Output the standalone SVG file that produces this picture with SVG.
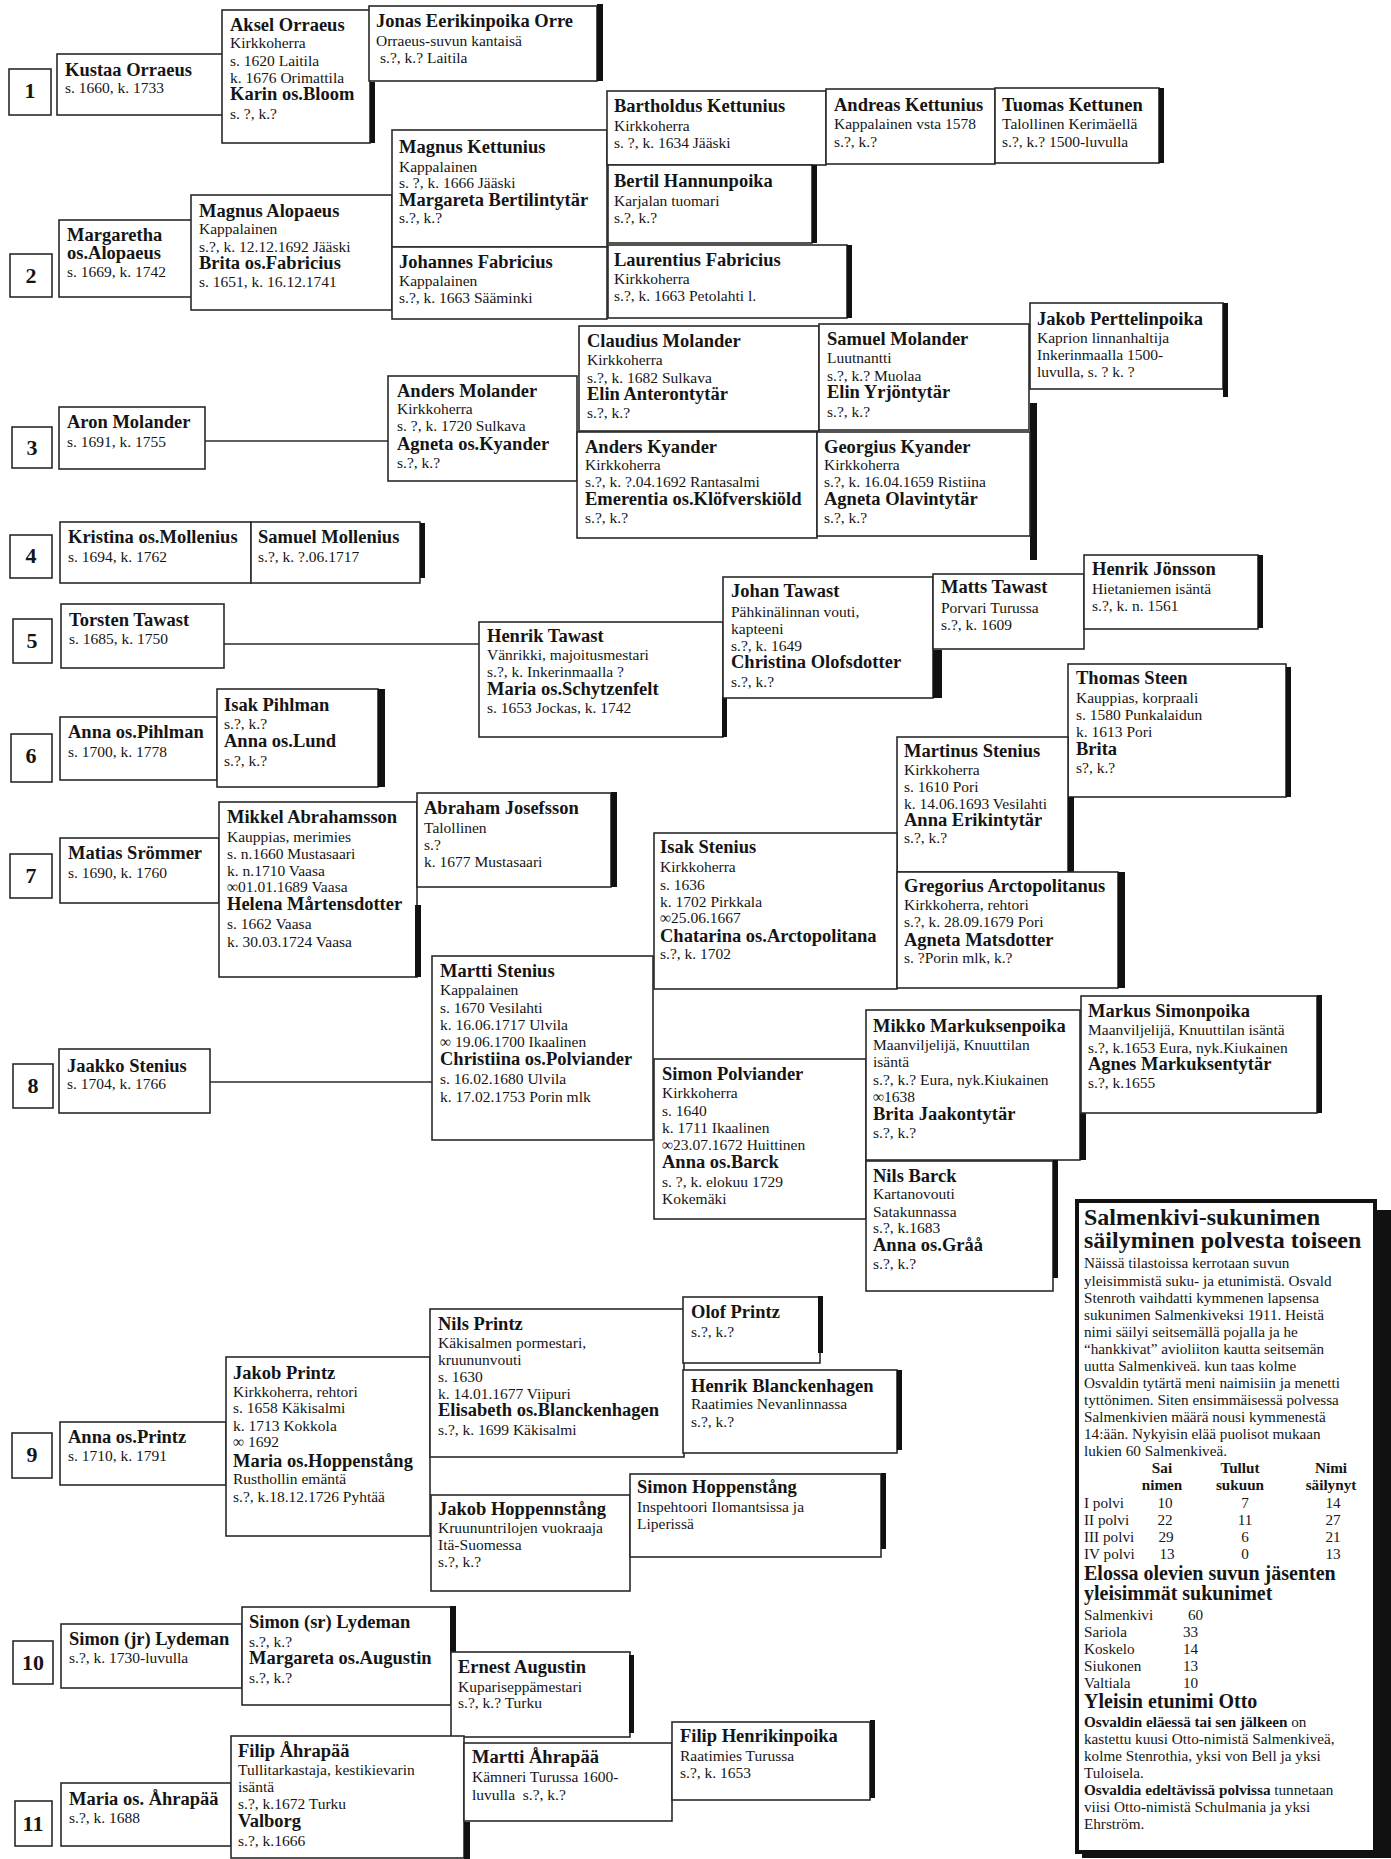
<svg xmlns="http://www.w3.org/2000/svg" width="1391" height="1859" viewBox="0 0 1391 1859">
<style>
.b{fill:#fff;stroke:#2a2a2a;stroke-width:1.6}
.bar{fill:#111}
.ln{stroke:#2a2a2a;stroke-width:1.6;fill:none}
text{font-family:"Liberation Serif","Times New Roman",serif;fill:#151515}
.n{font-weight:bold;font-size:18.5px}
.d{font-size:15.5px}
.num{font-weight:bold;font-size:22px;text-anchor:middle}
.h1{font-weight:bold;font-size:24px}
.h2{font-weight:bold;font-size:20px}
.s{font-size:15.2px}
.sb{font-size:15.2px;font-weight:bold}
.c{text-anchor:middle}
.e{text-anchor:end}
</style>
<rect width="1391" height="1859" fill="#fff"/>

<g id="connectors">
<line class="ln" x1="205" y1="441" x2="388" y2="441" stroke-width="2.6"/>
<line class="ln" x1="224" y1="644" x2="479" y2="644"/>
<line class="ln" x1="210" y1="1082" x2="432" y2="1082"/>
<rect class="bar" x="1030" y="403" width="7" height="157"/>
</g>

<g id="gen-numbers">
<g id="num1"><rect class="b" x="9" y="69" width="42" height="46"/><text class="num" x="30" y="98">1</text></g>
<g id="num2"><rect class="b" x="10" y="254" width="42" height="43"/><text class="num" x="31" y="283">2</text></g>
<g id="num3"><rect class="b" x="12" y="427" width="40" height="41"/><text class="num" x="32" y="455">3</text></g>
<g id="num4"><rect class="b" x="10" y="535" width="42" height="43"/><text class="num" x="31" y="563">4</text></g>
<g id="num5"><rect class="b" x="13" y="619" width="39" height="44"/><text class="num" x="32" y="648">5</text></g>
<g id="num6"><rect class="b" x="11" y="734" width="41" height="48"/><text class="num" x="31" y="763">6</text></g>
<g id="num7"><rect class="b" x="10" y="854" width="42" height="44"/><text class="num" x="31" y="883">7</text></g>
<g id="num8"><rect class="b" x="13" y="1064" width="40" height="44"/><text class="num" x="33" y="1093">8</text></g>
<g id="num9"><rect class="b" x="12" y="1433" width="40" height="45"/><text class="num" x="32" y="1462">9</text></g>
<g id="num10"><rect class="b" x="13" y="1641" width="40" height="43"/><text class="num" x="33" y="1670">10</text></g>
<g id="num11"><rect class="b" x="15" y="1801" width="37" height="45"/><text class="num" x="33" y="1831">11</text></g>
</g>

<g id="kustaa"><rect class="b" x="57" y="54" width="166" height="61"/><text x="65"><tspan class="n" x="65" y="76">Kustaa Orraeus</tspan><tspan class="d" x="65" y="93">s. 1660, k. 1733</tspan></text></g>
<g id="aksel"><rect class="b" x="222" y="10" width="148" height="133"/><rect class="bar" x="370" y="82" width="5" height="61"/><text><tspan class="n" x="230" y="31">Aksel Orraeus</tspan><tspan class="d" x="230" y="48">Kirkkoherra</tspan><tspan class="d" x="230" y="66">s. 1620 Laitila</tspan><tspan class="d" x="230" y="83">k. 1676 Orimattila</tspan><tspan class="n" x="230" y="100">Karin os.Bloom</tspan><tspan class="d" x="230" y="119">s. ?, k.?</tspan></text></g>
<g id="jonas"><rect class="b" x="369" y="6" width="228" height="75"/><rect class="bar" x="597" y="4" width="6" height="77"/><text><tspan class="n" x="376" y="27">Jonas Eerikinpoika Orre</tspan><tspan class="d" x="376" y="46">Orraeus-suvun kantaisä</tspan><tspan class="d" x="380" y="63">s.?, k.? Laitila</tspan></text></g>

<g id="margaretha"><rect class="b" x="59" y="220" width="133" height="77"/><text><tspan class="n" x="67" y="241">Margaretha</tspan><tspan class="n" x="67" y="259">os.Alopaeus</tspan><tspan class="d" x="67" y="277">s. 1669, k. 1742</tspan></text></g>
<g id="magnus-alopaeus"><rect class="b" x="191" y="195" width="201" height="115"/><text><tspan class="n" x="199" y="217">Magnus Alopaeus</tspan><tspan class="d" x="199" y="234">Kappalainen</tspan><tspan class="d" x="199" y="252">s.?, k. 12.12.1692 Jääski</tspan><tspan class="n" x="199" y="269">Brita os.Fabricius</tspan><tspan class="d" x="199" y="287">s. 1651, k. 16.12.1741</tspan></text></g>
<g id="magnus-kettunius"><rect class="b" x="392" y="130" width="215" height="117"/><text><tspan class="n" x="399" y="153">Magnus Kettunius</tspan><tspan class="d" x="399" y="172">Kappalainen</tspan><tspan class="d" x="399" y="188">s. ?, k. 1666 Jääski</tspan><tspan class="n" x="399" y="206">Margareta Bertilintytär</tspan><tspan class="d" x="399" y="223">s.?, k.?</tspan></text></g>
<g id="johannes-fabricius"><rect class="b" x="392" y="247" width="215" height="72"/><text><tspan class="n" x="399" y="268">Johannes Fabricius</tspan><tspan class="d" x="399" y="286">Kappalainen</tspan><tspan class="d" x="399" y="303">s.?, k. 1663 Sääminki</tspan></text></g>
<g id="bartholdus"><rect class="b" x="607" y="91" width="219" height="74"/><text><tspan class="n" x="614" y="112">Bartholdus Kettunius</tspan><tspan class="d" x="614" y="131">Kirkkoherra</tspan><tspan class="d" x="614" y="148">s. ?, k. 1634 Jääski</tspan></text></g>
<g id="andreas"><rect class="b" x="826" y="89" width="169" height="75"/><text><tspan class="n" x="834" y="111">Andreas Kettunius</tspan><tspan class="d" x="834" y="129">Kappalainen vsta 1578</tspan><tspan class="d" x="834" y="147">s.?, k.?</tspan></text></g>
<g id="tuomas"><rect class="b" x="995" y="88" width="164" height="75"/><rect class="bar" x="1159" y="88" width="5" height="75"/><text><tspan class="n" x="1002" y="111">Tuomas Kettunen</tspan><tspan class="d" x="1002" y="129">Talollinen Kerimäellä</tspan><tspan class="d" x="1002" y="147">s.?, k.? 1500-luvulla</tspan></text></g>
<g id="bertil"><rect class="b" x="608" y="165" width="204" height="78"/><rect class="bar" x="812" y="165" width="5" height="78"/><text><tspan class="n" x="614" y="187">Bertil Hannunpoika</tspan><tspan class="d" x="614" y="206">Karjalan tuomari</tspan><tspan class="d" x="614" y="223">s.?, k.?</tspan></text></g>
<g id="laurentius"><rect class="b" x="608" y="245" width="239" height="73"/><rect class="bar" x="847" y="245" width="5" height="73"/><text><tspan class="n" x="614" y="266">Laurentius Fabricius</tspan><tspan class="d" x="614" y="284">Kirkkoherra</tspan><tspan class="d" x="614" y="301">s.?, k. 1663 Petolahti l.</tspan></text></g>

<g id="aron"><rect class="b" x="59" y="407" width="146" height="62"/><text><tspan class="n" x="67" y="428">Aron Molander</tspan><tspan class="d" x="67" y="447">s. 1691, k. 1755</tspan></text></g>
<g id="anders-molander"><rect class="b" x="388" y="376" width="189" height="105"/><text><tspan class="n" x="397" y="397">Anders Molander</tspan><tspan class="d" x="397" y="414">Kirkkoherra</tspan><tspan class="d" x="397" y="431">s. ?, k. 1720 Sulkava</tspan><tspan class="n" x="397" y="450">Agneta os.Kyander</tspan><tspan class="d" x="397" y="468">s.?, k.?</tspan></text></g>
<g id="claudius"><rect class="b" x="579" y="326" width="240" height="105"/><text><tspan class="n" x="587" y="347">Claudius Molander</tspan><tspan class="d" x="587" y="365">Kirkkoherra</tspan><tspan class="d" x="587" y="383">s.?, k. 1682 Sulkava</tspan><tspan class="n" x="587" y="400">Elin Anterontytär</tspan><tspan class="d" x="587" y="418">s.?, k.?</tspan></text></g>
<g id="samuel-molander"><rect class="b" x="819" y="324" width="210" height="106"/><text><tspan class="n" x="827" y="345">Samuel Molander</tspan><tspan class="d" x="827" y="363">Luutnantti</tspan><tspan class="d" x="827" y="381">s.?, k.? Muolaa</tspan><tspan class="n" x="827" y="398">Elin Yrjöntytär</tspan><tspan class="d" x="827" y="417">s.?, k.?</tspan></text></g>
<g id="jakob-perttelinpoika"><rect class="b" x="1030" y="303" width="193" height="86"/><rect class="bar" x="1223" y="303" width="5" height="94"/><text><tspan class="n" x="1037" y="325">Jakob Perttelinpoika</tspan><tspan class="d" x="1037" y="343">Kaprion linnanhaltija</tspan><tspan class="d" x="1037" y="360">Inkerinmaalla 1500-</tspan><tspan class="d" x="1037" y="377">luvulla, s. ? k. ?</tspan></text></g>
<g id="anders-kyander"><rect class="b" x="577" y="432" width="240" height="106"/><text><tspan class="n" x="585" y="453">Anders Kyander</tspan><tspan class="d" x="585" y="470">Kirkkoherra</tspan><tspan class="d" x="585" y="487">s.?, k. ?.04.1692 Rantasalmi</tspan><tspan class="n" x="585" y="505">Emerentia os.Klöfverskiöld</tspan><tspan class="d" x="585" y="523">s.?, k.?</tspan></text></g>
<g id="georgius"><rect class="b" x="817" y="432" width="213" height="104"/><text><tspan class="n" x="824" y="453">Georgius Kyander</tspan><tspan class="d" x="824" y="470">Kirkkoherra</tspan><tspan class="d" x="824" y="487">s.?, k. 16.04.1659 Ristiina</tspan><tspan class="n" x="824" y="505">Agneta Olavintytär</tspan><tspan class="d" x="824" y="523">s.?, k.?</tspan></text></g>

<g id="kristina"><rect class="b" x="60" y="522" width="191" height="61"/><text><tspan class="n" x="68" y="543">Kristina os.Mollenius</tspan><tspan class="d" x="68" y="562">s. 1694, k. 1762</tspan></text></g>
<g id="samuel-mollenius"><rect class="b" x="251" y="522" width="169" height="61"/><rect class="bar" x="420" y="523" width="5" height="55"/><text><tspan class="n" x="258" y="543">Samuel Mollenius</tspan><tspan class="d" x="258" y="562">s.?, k. ?.06.1717</tspan></text></g>

<g id="torsten"><rect class="b" x="61" y="604" width="163" height="64"/><text><tspan class="n" x="69" y="626">Torsten Tawast</tspan><tspan class="d" x="69" y="644">s. 1685, k. 1750</tspan></text></g>
<g id="henrik-tawast"><rect class="b" x="479" y="622" width="244" height="115"/><rect class="bar" x="722" y="697" width="5" height="40"/><text><tspan class="n" x="487" y="642">Henrik Tawast</tspan><tspan class="d" x="487" y="660">Vänrikki, majoitusmestari</tspan><tspan class="d" x="487" y="677">s.?, k. Inkerinmaalla ?</tspan><tspan class="n" x="487" y="695">Maria os.Schytzenfelt</tspan><tspan class="d" x="487" y="713">s. 1653 Jockas, k. 1742</tspan></text></g>
<g id="johan-tawast"><rect class="b" x="723" y="577" width="210" height="121"/><rect class="bar" x="933" y="650" width="9" height="48"/><text><tspan class="n" x="731" y="597">Johan Tawast</tspan><tspan class="d" x="731" y="617">Pähkinälinnan vouti,</tspan><tspan class="d" x="731" y="634">kapteeni</tspan><tspan class="d" x="731" y="651">s.?, k. 1649</tspan><tspan class="n" x="731" y="668">Christina Olofsdotter</tspan><tspan class="d" x="731" y="687">s.?, k.?</tspan></text></g>
<g id="matts-tawast"><rect class="b" x="933" y="574" width="151" height="75"/><text><tspan class="n" x="941" y="593">Matts Tawast</tspan><tspan class="d" x="941" y="613">Porvari Turussa</tspan><tspan class="d" x="941" y="630">s.?, k. 1609</tspan></text></g>
<g id="henrik-jonsson"><rect class="b" x="1084" y="555" width="174" height="74"/><rect class="bar" x="1258" y="555" width="5" height="73"/><text><tspan class="n" x="1092" y="575">Henrik Jönsson</tspan><tspan class="d" x="1092" y="594">Hietaniemen isäntä</tspan><tspan class="d" x="1092" y="611">s.?, k. n. 1561</tspan></text></g>

<g id="anna-pihlman"><rect class="b" x="60" y="717" width="157" height="63"/><text><tspan class="n" x="68" y="738">Anna os.Pihlman</tspan><tspan class="d" x="68" y="757">s. 1700, k. 1778</tspan></text></g>
<g id="isak-pihlman"><rect class="b" x="217" y="689" width="161" height="98"/><rect class="bar" x="378" y="689" width="7" height="98"/><text><tspan class="n" x="224" y="711">Isak Pihlman</tspan><tspan class="d" x="224" y="729">s.?, k.?</tspan><tspan class="n" x="224" y="747">Anna os.Lund</tspan><tspan class="d" x="224" y="766">s.?, k.?</tspan></text></g>

<g id="thomas-steen"><rect class="b" x="1068" y="664" width="218" height="133"/><rect class="bar" x="1286" y="667" width="5" height="130"/><text><tspan class="n" x="1076" y="684">Thomas Steen</tspan><tspan class="d" x="1076" y="703">Kauppias, korpraali</tspan><tspan class="d" x="1076" y="720">s. 1580 Punkalaidun</tspan><tspan class="d" x="1076" y="737">k. 1613 Pori</tspan><tspan class="n" x="1076" y="755">Brita</tspan><tspan class="d" x="1076" y="773">s?, k.?</tspan></text></g>
<g id="martinus"><rect class="b" x="897" y="737" width="171" height="135"/><rect class="bar" x="1068" y="797" width="6" height="75"/><text><tspan class="n" x="904" y="757">Martinus Stenius</tspan><tspan class="d" x="904" y="775">Kirkkoherra</tspan><tspan class="d" x="904" y="792">s. 1610 Pori</tspan><tspan class="d" x="904" y="809">k. 14.06.1693 Vesilahti</tspan><tspan class="n" x="904" y="826">Anna Erikintytär</tspan><tspan class="d" x="904" y="843">s.?, k.?</tspan></text></g>

<g id="matias"><rect class="b" x="60" y="838" width="159" height="65"/><text><tspan class="n" x="68" y="859">Matias Srömmer</tspan><tspan class="d" x="68" y="878">s. 1690, k. 1760</tspan></text></g>
<g id="mikkel"><rect class="b" x="219" y="802" width="198" height="175"/><rect class="bar" x="415" y="905" width="6" height="72"/><text><tspan class="n" x="227" y="823">Mikkel Abrahamsson</tspan><tspan class="d" x="227" y="842">Kauppias, merimies</tspan><tspan class="d" x="227" y="859">s. n.1660 Mustasaari</tspan><tspan class="d" x="227" y="876">k. n.1710 Vaasa</tspan><tspan class="d" x="227" y="892">∞01.01.1689 Vaasa</tspan><tspan class="n" x="227" y="910">Helena Mårtensdotter</tspan><tspan class="d" x="227" y="929">s. 1662 Vaasa</tspan><tspan class="d" x="227" y="947">k. 30.03.1724 Vaasa</tspan></text></g>
<g id="abraham"><rect class="b" x="417" y="793" width="194" height="94"/><rect class="bar" x="611" y="792" width="6" height="95"/><text><tspan class="n" x="424" y="814">Abraham Josefsson</tspan><tspan class="d" x="424" y="833">Talollinen</tspan><tspan class="d" x="424" y="850">s.?</tspan><tspan class="d" x="424" y="867">k. 1677 Mustasaari</tspan></text></g>

<g id="isak-stenius"><rect class="b" x="654" y="833" width="243" height="156"/><text><tspan class="n" x="660" y="853">Isak Stenius</tspan><tspan class="d" x="660" y="872">Kirkkoherra</tspan><tspan class="d" x="660" y="890">s. 1636</tspan><tspan class="d" x="660" y="907">k. 1702 Pirkkala</tspan><tspan class="d" x="660" y="923">∞25.06.1667</tspan><tspan class="n" x="660" y="942">Chatarina os.Arctopolitana</tspan><tspan class="d" x="660" y="959">s.?, k. 1702</tspan></text></g>
<g id="gregorius"><rect class="b" x="897" y="872" width="221" height="116"/><rect class="bar" x="1118" y="872" width="7" height="116"/><text><tspan class="n" x="904" y="892">Gregorius Arctopolitanus</tspan><tspan class="d" x="904" y="910">Kirkkoherra, rehtori</tspan><tspan class="d" x="904" y="927">s.?, k. 28.09.1679 Pori</tspan><tspan class="n" x="904" y="946">Agneta Matsdotter</tspan><tspan class="d" x="904" y="963">s. ?Porin mlk, k.?</tspan></text></g>
<g id="martti-stenius"><rect class="b" x="432" y="956" width="221" height="184"/><text><tspan class="n" x="440" y="977">Martti Stenius</tspan><tspan class="d" x="440" y="995">Kappalainen</tspan><tspan class="d" x="440" y="1013">s. 1670 Vesilahti</tspan><tspan class="d" x="440" y="1030">k. 16.06.1717 Ulvila</tspan><tspan class="d" x="440" y="1047">∞ 19.06.1700 Ikaalinen</tspan><tspan class="n" x="440" y="1065">Christiina os.Polviander</tspan><tspan class="d" x="440" y="1084">s. 16.02.1680 Ulvila</tspan><tspan class="d" x="440" y="1102">k. 17.02.1753 Porin mlk</tspan></text></g>

<g id="jaakko"><rect class="b" x="59" y="1049" width="151" height="64"/><text><tspan class="n" x="67" y="1072">Jaakko Stenius</tspan><tspan class="d" x="67" y="1089">s. 1704, k. 1766</tspan></text></g>
<g id="simon-polviander"><rect class="b" x="654" y="1059" width="212" height="160"/><text><tspan class="n" x="662" y="1080">Simon Polviander</tspan><tspan class="d" x="662" y="1098">Kirkkoherra</tspan><tspan class="d" x="662" y="1116">s. 1640</tspan><tspan class="d" x="662" y="1133">k. 1711 Ikaalinen</tspan><tspan class="d" x="662" y="1150">∞23.07.1672 Huittinen</tspan><tspan class="n" x="662" y="1168">Anna os.Barck</tspan><tspan class="d" x="662" y="1187">s. ?, k. elokuu 1729</tspan><tspan class="d" x="662" y="1204">Kokemäki</tspan></text></g>
<g id="mikko"><rect class="b" x="866" y="1010" width="214" height="150"/><rect class="bar" x="1080" y="1113" width="6" height="47"/><text><tspan class="n" x="873" y="1032">Mikko Markuksenpoika</tspan><tspan class="d" x="873" y="1050">Maanviljelijä, Knuuttilan</tspan><tspan class="d" x="873" y="1067">isäntä</tspan><tspan class="d" x="873" y="1085">s.?, k.? Eura, nyk.Kiukainen</tspan><tspan class="d" x="873" y="1102">∞1638</tspan><tspan class="n" x="873" y="1120">Brita Jaakontytär</tspan><tspan class="d" x="873" y="1138">s.?, k.?</tspan></text></g>
<g id="markus"><rect class="b" x="1081" y="996" width="236" height="117"/><rect class="bar" x="1317" y="995" width="5" height="118"/><text><tspan class="n" x="1088" y="1017">Markus Simonpoika</tspan><tspan class="d" x="1088" y="1035">Maanviljelijä, Knuuttilan isäntä</tspan><tspan class="d" x="1088" y="1053">s.?, k.1653 Eura, nyk.Kiukainen</tspan><tspan class="n" x="1088" y="1070">Agnes Markuksentytär</tspan><tspan class="d" x="1088" y="1088">s.?, k.1655</tspan></text></g>
<g id="nils-barck"><rect class="b" x="866" y="1161" width="187" height="130"/><rect class="bar" x="1053" y="1160" width="5" height="118"/><text><tspan class="n" x="873" y="1182">Nils Barck</tspan><tspan class="d" x="873" y="1199">Kartanovouti</tspan><tspan class="d" x="873" y="1217">Satakunnassa</tspan><tspan class="d" x="873" y="1233">s.?, k.1683</tspan><tspan class="n" x="873" y="1251">Anna os.Gråå</tspan><tspan class="d" x="873" y="1269">s.?, k.?</tspan></text></g>

<g id="anna-printz"><rect class="b" x="60" y="1422" width="166" height="63"/><text><tspan class="n" x="68" y="1443">Anna os.Printz</tspan><tspan class="d" x="68" y="1461">s. 1710, k. 1791</tspan></text></g>
<g id="jakob-printz"><rect class="b" x="226" y="1357" width="204" height="179"/><text><tspan class="n" x="233" y="1379">Jakob Printz</tspan><tspan class="d" x="233" y="1397">Kirkkoherra, rehtori</tspan><tspan class="d" x="233" y="1413">s. 1658 Käkisalmi</tspan><tspan class="d" x="233" y="1431">k. 1713 Kokkola</tspan><tspan class="d" x="233" y="1447">∞ 1692</tspan><tspan class="n" x="233" y="1467">Maria os.Hoppenstång</tspan><tspan class="d" x="233" y="1484">Rusthollin emäntä</tspan><tspan class="d" x="233" y="1502">s.?, k.18.12.1726 Pyhtää</tspan></text></g>
<g id="nils-printz"><rect class="b" x="430" y="1309" width="254" height="148"/><text><tspan class="n" x="438" y="1330">Nils Printz</tspan><tspan class="d" x="438" y="1348">Käkisalmen pormestari,</tspan><tspan class="d" x="438" y="1365">kruununvouti</tspan><tspan class="d" x="438" y="1382">s. 1630</tspan><tspan class="d" x="438" y="1399">k. 14.01.1677 Viipuri</tspan><tspan class="n" x="438" y="1416">Elisabeth os.Blanckenhagen</tspan><tspan class="d" x="438" y="1435">s.?, k. 1699 Käkisalmi</tspan></text></g>
<g id="olof-printz"><rect class="b" x="683" y="1297" width="137" height="66"/><rect class="bar" x="818" y="1296" width="5" height="57"/><text><tspan class="n" x="691" y="1318">Olof Printz</tspan><tspan class="d" x="691" y="1337">s.?, k.?</tspan></text></g>
<g id="henrik-blanckenhagen"><rect class="b" x="683" y="1370" width="214" height="83"/><rect class="bar" x="897" y="1370" width="5" height="80"/><text><tspan class="n" x="691" y="1392">Henrik Blanckenhagen</tspan><tspan class="d" x="691" y="1409">Raatimies Nevanlinnassa</tspan><tspan class="d" x="691" y="1427">s.?, k.?</tspan></text></g>
<g id="jakob-hoppennstang"><rect class="b" x="431" y="1495" width="199" height="96"/><text><tspan class="n" x="438" y="1515">Jakob Hoppennstång</tspan><tspan class="d" x="438" y="1533">Kruununtrilojen vuokraaja</tspan><tspan class="d" x="438" y="1550">Itä-Suomessa</tspan><tspan class="d" x="438" y="1567">s.?, k.?</tspan></text></g>
<g id="simon-hoppenstang"><rect class="b" x="630" y="1474" width="251" height="83"/><rect class="bar" x="881" y="1473" width="5" height="76"/><text><tspan class="n" x="637" y="1493">Simon Hoppenstång</tspan><tspan class="d" x="637" y="1512">Inspehtoori Ilomantsissa ja</tspan><tspan class="d" x="637" y="1529">Liperissä</tspan></text></g>

<g id="simon-jr"><rect class="b" x="61" y="1624" width="181" height="64"/><text><tspan class="n" x="69" y="1645">Simon (jr) Lydeman</tspan><tspan class="d" x="69" y="1663">s.?, k. 1730-luvulla</tspan></text></g>
<g id="simon-sr"><rect class="b" x="242" y="1607" width="209" height="98"/><rect class="bar" x="450" y="1606" width="6" height="49"/><text><tspan class="n" x="249" y="1628">Simon (sr) Lydeman</tspan><tspan class="d" x="249" y="1647">s.?, k.?</tspan><tspan class="n" x="249" y="1664">Margareta os.Augustin</tspan><tspan class="d" x="249" y="1683">s.?, k.?</tspan></text></g>
<g id="ernest"><rect class="b" x="451" y="1652" width="179" height="85"/><rect class="bar" x="629" y="1655" width="5" height="78"/><text><tspan class="n" x="458" y="1673">Ernest Augustin</tspan><tspan class="d" x="458" y="1692">Kupariseppämestari</tspan><tspan class="d" x="458" y="1708">s.?, k.? Turku</tspan></text></g>

<g id="maria-ahrapaa"><rect class="b" x="61" y="1783" width="170" height="63"/><text><tspan class="n" x="69" y="1805">Maria os. Åhrapää</tspan><tspan class="d" x="69" y="1823">s.?, k. 1688</tspan></text></g>
<g id="filip-ahrapaa"><rect class="b" x="231" y="1736" width="233" height="122"/><rect class="bar" x="464" y="1822" width="6" height="37"/><text><tspan class="n" x="238" y="1757">Filip Åhrapää</tspan><tspan class="d" x="238" y="1775">Tullitarkastaja, kestikievarin</tspan><tspan class="d" x="238" y="1792">isäntä</tspan><tspan class="d" x="238" y="1809">s.?, k.1672 Turku</tspan><tspan class="n" x="238" y="1827">Valborg</tspan><tspan class="d" x="238" y="1846">s.?, k.1666</tspan></text></g>
<g id="martti-ahrapaa"><rect class="b" x="464" y="1743" width="208" height="78"/><text><tspan class="n" x="472" y="1763">Martti Åhrapää</tspan><tspan class="d" x="472" y="1782">Kämneri Turussa 1600-</tspan><tspan class="d" x="472" y="1800" xml:space="preserve">luvulla  s.?, k.?</tspan></text></g>
<g id="filip-henrikinpoika"><rect class="b" x="672" y="1722" width="198" height="78"/><rect class="bar" x="870" y="1720" width="5" height="78"/><text><tspan class="n" x="680" y="1742">Filip Henrikinpoika</tspan><tspan class="d" x="680" y="1761">Raatimies Turussa</tspan><tspan class="d" x="680" y="1778">s.?, k. 1653</tspan></text></g>

<g id="sidebar">
<rect class="bar" x="1377" y="1210" width="14" height="648"/>
<rect class="bar" x="1082" y="1852" width="309" height="6"/>
<rect x="1077" y="1201" width="298" height="651" fill="#fff" stroke="#111" stroke-width="4"/>
<text class="h1" x="1084" y="1225">Salmenkivi-sukunimen</text>
<text class="h1" x="1084" y="1248">säilyminen polvesta toiseen</text>
<text class="s"><tspan x="1084" y="1268">Näissä tilastoissa kerrotaan suvun</tspan><tspan x="1084" y="1286">yleisimmistä suku- ja etunimistä. Osvald</tspan><tspan x="1084" y="1303">Stenroth vaihdatti kymmenen lapsensa</tspan><tspan x="1084" y="1320">sukunimen Salmenkiveksi 1911. Heistä</tspan><tspan x="1084" y="1337">nimi säilyi seitsemällä pojalla ja he</tspan><tspan x="1084" y="1354">“hankkivat” avioliiton kautta seitsemän</tspan><tspan x="1084" y="1371">uutta Salmenkiveä. kun taas kolme</tspan><tspan x="1084" y="1388">Osvaldin tytärtä meni naimisiin ja menetti</tspan><tspan x="1084" y="1405">tyttönimen. Siten ensimmäisessä polvessa</tspan><tspan x="1084" y="1422">Salmenkivien määrä nousi kymmenestä</tspan><tspan x="1084" y="1439">14:ään. Nykyisin elää puolisot mukaan</tspan><tspan x="1084" y="1456">lukien 60 Salmenkiveä.</tspan></text>
<text class="sb c"><tspan x="1162" y="1473">Sai</tspan><tspan x="1162" y="1490">nimen</tspan><tspan x="1240" y="1473">Tullut</tspan><tspan x="1240" y="1490">sukuun</tspan><tspan x="1331" y="1473">Nimi</tspan><tspan x="1331" y="1490">säilynyt</tspan></text>
<text class="s"><tspan x="1084" y="1508">I polvi</tspan><tspan x="1084" y="1525">II polvi</tspan><tspan x="1084" y="1542">III polvi</tspan><tspan x="1084" y="1559">IV polvi</tspan></text>
<text class="s c"><tspan x="1165" y="1508">10</tspan><tspan x="1165" y="1525">22</tspan><tspan x="1166" y="1542">29</tspan><tspan x="1167" y="1559">13</tspan><tspan x="1245" y="1508">7</tspan><tspan x="1245" y="1525">11</tspan><tspan x="1245" y="1542">6</tspan><tspan x="1245" y="1559">0</tspan><tspan x="1333" y="1508">14</tspan><tspan x="1333" y="1525">27</tspan><tspan x="1333" y="1542">21</tspan><tspan x="1333" y="1559">13</tspan></text>
<text class="h2" x="1084" y="1580">Elossa olevien suvun jäsenten</text>
<text class="h2" x="1084" y="1600">yleisimmät sukunimet</text>
<text class="s"><tspan x="1084" y="1620">Salmenkivi</tspan><tspan x="1084" y="1637">Sariola</tspan><tspan x="1084" y="1654">Koskelo</tspan><tspan x="1084" y="1671">Siukonen</tspan><tspan x="1084" y="1688">Valtiala</tspan></text>
<text class="s"><tspan x="1188" y="1620">60</tspan><tspan x="1183" y="1637">33</tspan><tspan x="1183" y="1654">14</tspan><tspan x="1183" y="1671">13</tspan><tspan x="1183" y="1688">10</tspan></text>
<text class="h2" x="1084" y="1708">Yleisin etunimi Otto</text>
<text class="s"><tspan x="1084" y="1727"><tspan font-weight="bold">Osvaldin eläessä tai sen jälkeen</tspan> on</tspan><tspan x="1084" y="1744">kastettu kuusi Otto-nimistä Salmenkiveä,</tspan><tspan x="1084" y="1761">kolme Stenrothia, yksi von Bell ja yksi</tspan><tspan x="1084" y="1778">Tuloisela.</tspan><tspan x="1084" y="1795"><tspan font-weight="bold">Osvaldia edeltävissä polvissa</tspan> tunnetaan</tspan><tspan x="1084" y="1812">viisi Otto-nimistä Schulmania ja yksi</tspan><tspan x="1084" y="1829">Ehrström.</tspan></text>
</g>
</svg>
